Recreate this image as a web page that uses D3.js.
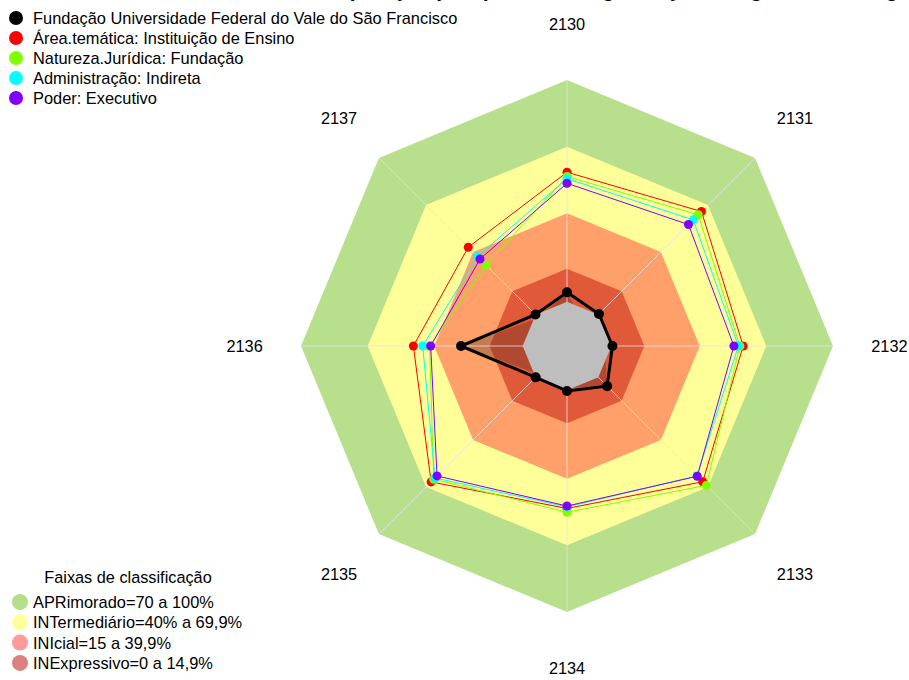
<!DOCTYPE html>
<html>
<head>
<meta charset="utf-8">
<script src="https://cdnjs.cloudflare.com/ajax/libs/d3/7.8.5/d3.min.js"></script>
<style>
  body { margin: 0; background: #fff; }
  svg { display: block; font-family: "Liberation Sans", Arial, sans-serif; }
</style>
</head>
<body>
<div id="container"></div>
<script>
// questoes (eixos do radar)
var questoes = ["2130", "2131", "2132", "2133", "2134", "2135", "2136", "2137"];

// series, em %
var fundacao      = [4.2, 0.4, 0.5, 5.6, 0.3, 0.0, 27.8, 0.1];
var areaTematica  = [58.4, 65.8, 59.5, 66.6, 53.3, 66.7, 49.3, 43.0];
var natureza      = [56.5, 63.7, 58.0, 68.9, 55.0, 65.0, 42.0, 31.7];
var administracao = [55.5, 60.5, 57.3, 62.9, 52.6, 64.2, 45.1, 37.1];
var poder         = [53.4, 57.5, 55.3, 63.1, 52.2, 62.9, 41.5, 35.5];
// area sombreada da organizacao
var sombra        = [4.2, -8.0, -3.0, 5.6, -1.0, -2.0, 27.8, -2.0];

var seriesNomes = [
  "Fundação Universidade Federal do Vale do São Francisco",
  "Área.temática: Instituição de Ensino",
  "Natureza.Jurídica: Fundação",
  "Administração: Indireta",
  "Poder: Executivo"
];

// faixas de classificacao (limite superior de cada faixa)
var faixasLimite = [100, 69.9, 39.9, 14.9];
var faixasNomes = [
  "APRimorado=70 a 100%",
  "INTermediário=40% a 69,9%",
  "INIcial=15 a 39,9%",
  "INExpressivo=0 a 14,9%"
];

var series = [fundacao, areaTematica, natureza, administracao, poder];
var seriesCores = ["#000000", "#ff0000", "#80ff00", "#00ffff", "#8000ff"];
var faixasCores = ["#b8e08c", "#ffff99", "#ffa06a", "#e05a3a"];
var legendaFaixasCores = ["#b5de8c", "#ffff9a", "#ff9a9a", "#db8080"];

var width = 909, height = 680;
var cx = 567, cy = 346, R = 266;

var svg = d3
  .select("#container")
  .append("svg")
  .attr("width", width)
  .attr("height", height);

// titulo (cortado no topo, como no original)
svg
  .append("text")
  .attr("x", 655)
  .attr("y", -3)
  .attr("text-anchor", "middle")
  .style("font-weight", "bold")
  .style("font-size", "21px")
  .text("Comparação por questões: organização e segmentos de agrupamento");

var r = d3.scaleLinear().domain([-20, 100]).range([0, R]);
var angulo = d3.scaleLinear().domain([0, questoes.length]).range([0, 2 * Math.PI]);

var radar = d3
  .lineRadial()
  .angle((d, i) => angulo(i))
  .radius(d => r(d))
  .curve(d3.curveLinearClosed);

var g = svg.append("g").attr("transform", "translate(" + cx + "," + cy + ")");

function ponto(v, i) {
  var a = angulo(i);
  return [r(v) * Math.sin(a), -r(v) * Math.cos(a)];
}

// faixas
g.selectAll("path.faixa")
  .data(faixasLimite)
  .enter()
  .append("path")
  .attr("class", "faixa")
  .attr("d", v => radar(questoes.map(() => v)))
  .style("fill", (d, i) => faixasCores[i]);

// sombra da organizacao
g.append("path")
  .attr("d", radar(sombra))
  .style("fill", "rgba(70,35,25,0.3)");

// raios
g.selectAll("line.raio")
  .data(questoes)
  .enter()
  .append("line")
  .attr("class", "raio")
  .attr("x1", 0)
  .attr("y1", 0)
  .attr("x2", (d, i) => ponto(100, i)[0])
  .attr("y2", (d, i) => ponto(100, i)[1])
  .style("stroke", "#e2e2e2")
  .style("stroke-opacity", 0.8)
  .style("stroke-width", 1);

// miolo cinza (valor zero)
g.append("path")
  .attr("d", radar(questoes.map(() => 0)))
  .style("fill", "#bebebe");

// series
series.forEach(function(s, k) {
  g.append("path")
    .attr("d", radar(s))
    .style("fill", "none")
    .style("stroke", seriesCores[k])
    .style("stroke-width", k == 0 ? 3 : 1)
    .style("stroke-linejoin", "round");

  g.selectAll("circle.p" + k)
    .data(s)
    .enter()
    .append("circle")
    .attr("class", "p" + k)
    .attr("cx", (d, i) => ponto(d, i)[0])
    .attr("cy", (d, i) => ponto(d, i)[1])
    .attr("r", k == 0 ? 5 : 4.5)
    .style("fill", seriesCores[k]);
});

// rotulos dos eixos
g.selectAll("text.eixo")
  .data(questoes)
  .enter()
  .append("text")
  .attr("class", "eixo")
  .attr("x", (d, i) => R * 1.212 * Math.sin(angulo(i)))
  .attr("y", (d, i) => -R * 1.212 * Math.cos(angulo(i)))
  .attr("text-anchor", "middle")
  .attr("dominant-baseline", "central")
  .style("font-size", "16.3px")
  .text(d => d);

// legenda das series
var leg = svg
  .selectAll("g.leg")
  .data(seriesNomes)
  .enter()
  .append("g")
  .attr("class", "leg")
  .attr("transform", (d, i) => "translate(16," + (18 + i * 20) + ")");

leg.append("circle")
  .attr("r", 7)
  .style("fill", (d, i) => seriesCores[i]);

leg.append("text")
  .attr("x", 17)
  .attr("dominant-baseline", "central")
  .style("font-size", "16.4px")
  .text(d => d);

// legenda das faixas
svg
  .append("text")
  .attr("x", 128)
  .attr("y", 577)
  .attr("text-anchor", "middle")
  .attr("dominant-baseline", "central")
  .style("font-size", "16.3px")
  .text("Faixas de classificação");

var legF = svg
  .selectAll("g.legf")
  .data(faixasNomes)
  .enter()
  .append("g")
  .attr("class", "legf")
  .attr("transform", (d, i) => "translate(20," + (602 + i * 20.3) + ")");

legF.append("circle")
  .attr("r", 8)
  .style("fill", (d, i) => legendaFaixasCores[i]);

legF.append("text")
  .attr("x", 13)
  .attr("dominant-baseline", "central")
  .style("font-size", "16.4px")
  .text(d => d);
</script>
</body>
</html>
